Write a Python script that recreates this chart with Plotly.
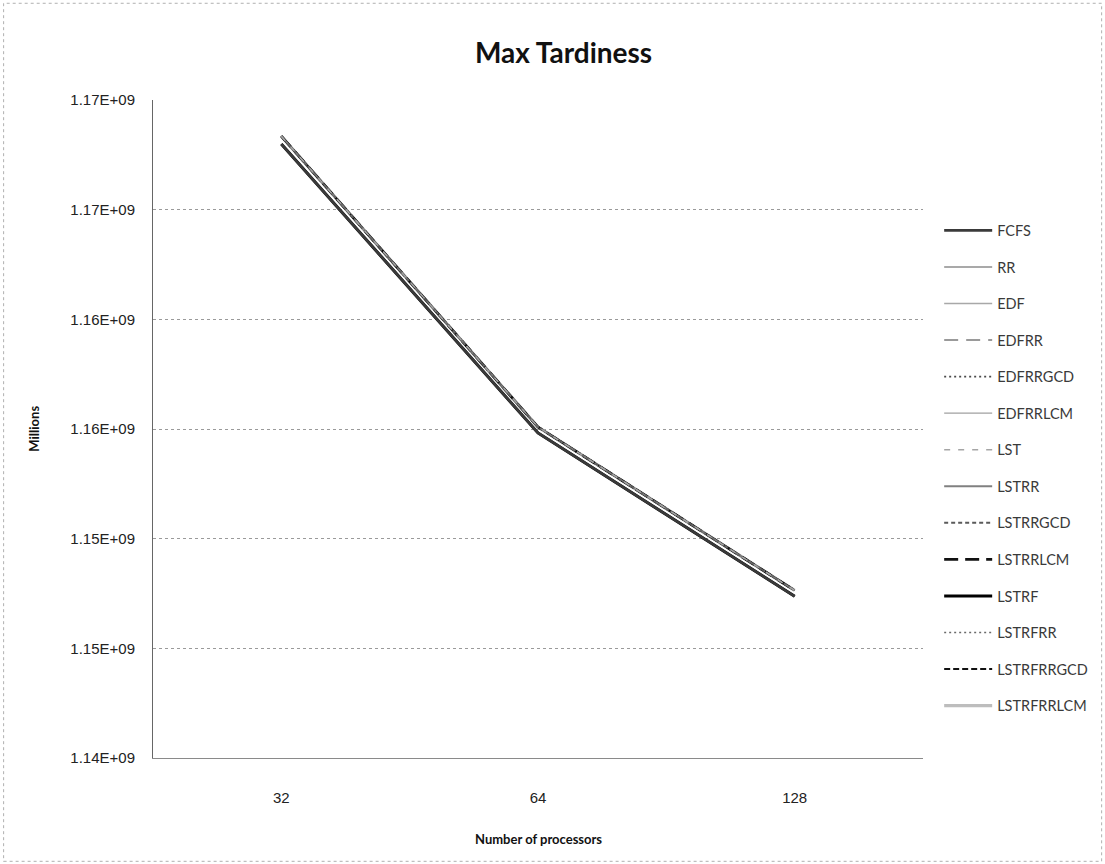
import plotly.graph_objects as go

# Number of processors (categories on the x axis)
processors = ["32", "64", "128"]

# Max tardiness per scheduling policy
fcfs = [1.16799e9, 1.15482e9, 1.14737e9]
rr = [1.16835e9, 1.15509e9, 1.14764e9]
edf = [1.16835e9, 1.15509e9, 1.14764e9]
edfrr = [1.16835e9, 1.15509e9, 1.14764e9]
edfrrgcd = [1.16835e9, 1.15509e9, 1.14764e9]
edfrrlcm = [1.16835e9, 1.15509e9, 1.14764e9]
lst = [1.16835e9, 1.15509e9, 1.14764e9]
lstrr = [1.16835e9, 1.15509e9, 1.14764e9]
lstrrgcd = [1.16835e9, 1.15509e9, 1.14764e9]
lstrrlcm = [1.16835e9, 1.15509e9, 1.14764e9]
lstrf = [1.16799e9, 1.15482e9, 1.14737e9]
lstrfrr = [1.16835e9, 1.15509e9, 1.14764e9]
lstrfrrgcd = [1.16835e9, 1.15509e9, 1.14764e9]
lstrfrrlcm = [1.16835e9, 1.15509e9, 1.14764e9]

# Y axis ticks and their printed labels
y_tick_values = [1.140e9, 1.145e9, 1.150e9, 1.155e9, 1.160e9, 1.165e9, 1.170e9]
y_tick_labels = ["1.14E+09", "1.15E+09", "1.15E+09", "1.16E+09",
                 "1.16E+09", "1.17E+09", "1.17E+09"]

series = [
    ("FCFS", fcfs, dict(color="#3a3a3a", width=2.6, dash="solid")),
    ("RR", rr, dict(color="#8c8c8c", width=1.6, dash="solid")),
    ("EDF", edf, dict(color="#a8a8a8", width=1.4, dash="solid")),
    ("EDFRR", edfrr, dict(color="#7a7a7a", width=1.6, dash="14px,8px")),
    ("EDFRRGCD", edfrrgcd, dict(color="#4a4a4a", width=1.6, dash="2px,3px")),
    ("EDFRRLCM", edfrrlcm, dict(color="#a0a0a0", width=1.4, dash="solid")),
    ("LST", lst, dict(color="#a5a5a5", width=1.4, dash="6px,8px")),
    ("LSTRR", lstrr, dict(color="#808080", width=2.2, dash="solid")),
    ("LSTRRGCD", lstrrgcd, dict(color="#5a5a5a", width=2.0, dash="4px,3px")),
    ("LSTRRLCM", lstrrlcm, dict(color="#111111", width=2.6, dash="14px,7px")),
    ("LSTRF", lstrf, dict(color="#000000", width=3.0, dash="solid")),
    ("LSTRFRR", lstrfrr, dict(color="#6a6a6a", width=1.6, dash="2px,3px")),
    ("LSTRFRRGCD", lstrfrrgcd, dict(color="#111111", width=2.2, dash="6px,3px")),
    ("LSTRFRRLCM", lstrfrrlcm, dict(color="#bdbdbd", width=3.2, dash="solid")),
]

# Paint wide light lines first so the darker dashed ones stay visible on top;
# legendrank keeps the legend in the listed order.
draw_order = sorted(range(len(series)),
                    key=lambda i: (series[i][2]["dash"] != "solid",
                                   -series[i][2]["width"]))

fig = go.Figure()
for i in draw_order:
    name, values, line = series[i]
    fig.add_trace(go.Scatter(
        x=processors, y=values, name=name, mode="lines",
        line=line, legendgroup=f"g{i}", legendrank=i + 1,
    ))

fig.update_layout(
    width=1105, height=864,
    paper_bgcolor="white", plot_bgcolor="white",
    margin=dict(l=153, r=180, t=100, b=106),
    title=dict(text="<b>Max Tardiness</b>", x=0.51, xanchor="center",
               y=0.938, yanchor="middle",
               font=dict(family="Lato", size=28, color="#111111")),
    showlegend=True,
    legend=dict(x=1.021, xanchor="left", y=0.826, yanchor="top",
                font=dict(family="Lato", size=14.5, color="#3a3a3a"),
                itemwidth=48, tracegroupgap=14.7, traceorder="grouped",
                bgcolor="rgba(0,0,0,0)"),
    xaxis=dict(type="category", range=[-0.5, 2.5], showgrid=False,
               zeroline=False, showline=True, linecolor="#8a8a8a", linewidth=1,
               ticks="", ticklabelstandoff=26,
               tickfont=dict(family="Liberation Sans", size=15, color="#222222")),
    yaxis=dict(range=[1.140e9, 1.170e9], tickvals=y_tick_values,
               ticktext=y_tick_labels, showgrid=True, gridcolor="#9a9a9a",
               griddash="dot", gridwidth=1, zeroline=False,
               showline=True, linecolor="#666666", linewidth=1,
               ticks="", ticklabelstandoff=14,
               tickfont=dict(family="Liberation Sans", size=15, color="#222222")),
    annotations=[
        dict(text="<b>Millions</b>", xref="paper", yref="paper",
             x=-0.155, y=0.5, xanchor="center", yanchor="middle",
             textangle=-90, showarrow=False,
             font=dict(family="Lato", size=13, color="#111111")),
        dict(text="<b>Number of processors</b>", xref="paper", yref="paper",
             x=0.5, y=-0.1235, xanchor="center", yanchor="middle",
             showarrow=False,
             font=dict(family="Lato", size=13, color="#111111")),
    ],
    shapes=[
        dict(type="rect", xref="paper", yref="paper",
             x0=-0.194, x1=1.232, y0=-0.157, y1=1.147,
             line=dict(color="#b0b0b0", width=1, dash="dot")),
    ],
)

fig.write_html("out.html")
